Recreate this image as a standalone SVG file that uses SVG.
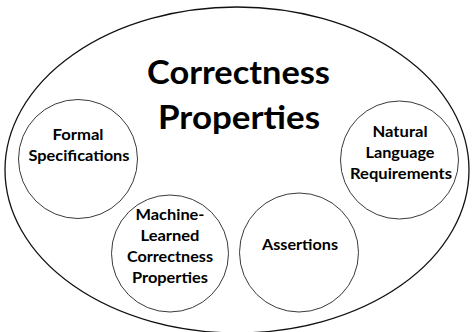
<svg xmlns="http://www.w3.org/2000/svg" width="472" height="332" viewBox="0 0 472 332">
  <style>
    .frame { fill: #ffffff; stroke: #111111; stroke-width: 1.3; }
    .kind { fill: #ffffff; stroke: #3a3a3a; stroke-width: 1; }
    .title { font-family: "Lato", "Open Sans", "Liberation Sans", sans-serif; font-weight: bold; font-size: 33px; fill: #000000; text-anchor: middle; }
    .label { font-family: "Lato", "Open Sans", "Liberation Sans", sans-serif; font-weight: bold; font-size: 15.6px; fill: #000000; text-anchor: middle; }
  </style>
  <rect width="472" height="332" fill="#ffffff"/>

  <!-- enclosing set -->
  <g id="correctness-properties">
    <ellipse class="frame" cx="237" cy="170" rx="232" ry="163"/>
    <text class="title" x="238.5" y="84" textLength="183" lengthAdjust="spacingAndGlyphs">Correctness</text>
    <text class="title" x="239" y="129" textLength="162" lengthAdjust="spacingAndGlyphs">Properties</text>
  </g>

  <g id="formal-specifications">
    <circle class="kind" cx="78" cy="159" r="59.5"/>
    <text class="label" x="78" y="140" textLength="51" lengthAdjust="spacingAndGlyphs">Formal</text>
    <text class="label" x="79" y="161" textLength="101" lengthAdjust="spacingAndGlyphs">Specifications</text>
  </g>

  <g id="natural-language-requirements">
    <circle class="kind" cx="399.5" cy="160" r="59"/>
    <text class="label" x="400" y="137" textLength="55" lengthAdjust="spacingAndGlyphs">Natural</text>
    <text class="label" x="400" y="158" textLength="69" lengthAdjust="spacingAndGlyphs">Language</text>
    <text class="label" x="401" y="179" textLength="102" lengthAdjust="spacingAndGlyphs">Requirements</text>
  </g>

  <g id="machine-learned-correctness-properties">
    <circle class="kind" cx="170" cy="253.5" r="58.5"/>
    <text class="label" x="170" y="220" textLength="69" lengthAdjust="spacingAndGlyphs">Machine-</text>
    <text class="label" x="170" y="241" textLength="59" lengthAdjust="spacingAndGlyphs">Learned</text>
    <text class="label" x="170" y="262" textLength="86" lengthAdjust="spacingAndGlyphs">Correctness</text>
    <text class="label" x="170" y="283" textLength="76" lengthAdjust="spacingAndGlyphs">Properties</text>
  </g>

  <g id="assertions">
    <circle class="kind" cx="299" cy="252.5" r="59.5"/>
    <text class="label" x="300" y="250" textLength="76" lengthAdjust="spacingAndGlyphs">Assertions</text>
  </g>
</svg>
